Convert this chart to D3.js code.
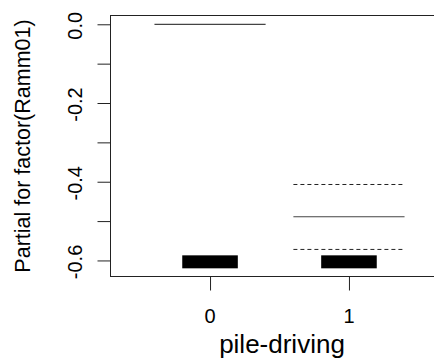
<!DOCTYPE html>
<html>
<head>
<meta charset="utf-8">
<script src="https://cdn.jsdelivr.net/npm/d3@7"></script>
<style>
  body { margin: 0; background: #fff; }
  text { font-family: 'Liberation Sans', Arial, sans-serif; fill: #000; }
</style>
</head>
<body>
<script>
// term values for factor(Ramm01)
const levels = [0, 1];
const levelLabels = ['0', '1'];
const fit = [0.0, -0.489];
const upper = [null, -0.407];
const lower = [null, -0.572];
// rug span per level (jittered observations)
const rugLow = [-0.62, -0.62];
const rugHigh = [-0.587, -0.587];
const rugHalf = 0.2;
const levelHalf = 0.4;

const yTicks = [0, -0.1, -0.2, -0.3, -0.4, -0.5, -0.6];
const yLabels = [0, -0.2, -0.4, -0.6];

const W = 434, H = 358;
const x = d3.scaleLinear().domain([-0.72, 1.72]).range([110, 449]);
const y = d3.scaleLinear().domain([0.0236, -0.6395]).range([15, 276]);

const svg = d3.select('body').append('svg').attr('width', W).attr('height', H);

// rug
levels.forEach((lv, i) => {
	svg.append('rect')
		.attr('x', x(lv - rugHalf))
		.attr('width', x(lv + rugHalf) - x(lv - rugHalf))
		.attr('y', y(rugHigh[i]))
		.attr('height', y(rugLow[i]) - y(rugHigh[i]))
		.attr('fill', '#000');
});

// fitted term lines
levels.forEach((lv, i) => {
	svg.append('line')
		.attr('x1', x(lv - levelHalf)).attr('x2', x(lv + levelHalf))
		.attr('y1', y(fit[i])).attr('y2', y(fit[i]))
		.attr('stroke', '#444').attr('stroke-width', 1.2);
	[upper[i], lower[i]].forEach((v) => {
		if (v === null) return;
		svg.append('line')
			.attr('x1', x(lv - levelHalf)).attr('x2', x(lv + levelHalf))
			.attr('y1', y(v)).attr('y2', y(v))
			.attr('stroke', '#222').attr('stroke-width', 1)
			.attr('stroke-dasharray', '4,3');
	});
});

// box
svg.append('rect')
	.attr('x', 110.5).attr('y', 15.5)
	.attr('width', x.range()[1] - 110).attr('height', 276 - 15)
	.attr('fill', 'none').attr('stroke', '#222').attr('stroke-width', 1);

// y axis
const yAxis = svg.append('g').attr('transform', 'translate(110.5,0)')
	.call(d3.axisLeft(y).tickValues(yTicks).tickSize(13).tickFormat(''));
yAxis.select('.domain').remove();
yAxis.selectAll('line').attr('stroke', '#222');
yLabels.forEach((v) => {
	svg.append('text')
		.attr('transform', 'translate(82,' + (y(v) + 1.5) + ') rotate(-90)')
		.attr('text-anchor', 'middle')
		.style('font-size', '20px')
		.text(d3.format('.1f')(v).replace('−', '-'));
});

// x axis
const xAxis = svg.append('g').attr('transform', 'translate(0,276.5)')
	.call(d3.axisBottom(x).tickValues(levels).tickSize(14).tickFormat(''));
xAxis.select('.domain').remove();
xAxis.selectAll('line').attr('stroke', '#222');
levels.forEach((lv, i) => {
	svg.append('text')
		.attr('x', x(lv)).attr('y', 323)
		.attr('text-anchor', 'middle')
		.style('font-size', '20px')
		.text(levelLabels[i]);
});

// titles
svg.append('text')
	.attr('x', 282).attr('y', 353)
	.attr('text-anchor', 'middle')
	.style('font-size', '26px')
	.text('pile-driving');
svg.append('text')
	.attr('transform', 'translate(30,146) rotate(-90)')
	.attr('text-anchor', 'middle')
	.style('font-size', '21.5px')
	.text('Partial for factor(Ramm01)');
</script>
</body>
</html>
